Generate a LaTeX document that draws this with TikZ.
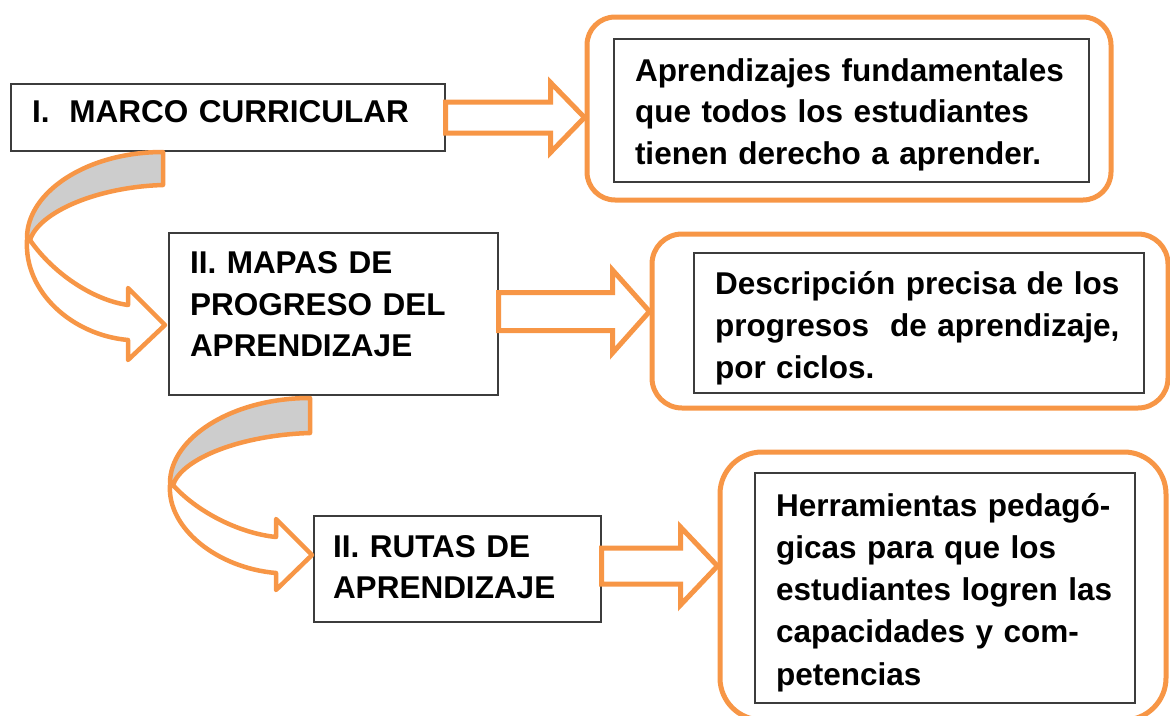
\documentclass[tikz,border=0pt]{standalone}
\usepackage{fontspec}
\setmainfont{Liberation Sans}
\usetikzlibrary{calc}
\definecolor{orng}{HTML}{F79646}
\definecolor{bandgray}{HTML}{CDCDCD}
\definecolor{boxline}{HTML}{3C3C3C}
\newcommand{\txtfont}{\fontsize{31.5}{41.5}\selectfont\bfseries}
% straight block arrow from a start point to the west side of a node
\newcommand{\blockarr}[5]{%
  \draw[barrow] let \p1=(#1), \p2=(#2.west) in
    (\x1,\y1+#3) -- (\x2-#5,\y1+#3) -- (\x2-#5,\y1+#4) -- (\x2,\y1)
    -- (\x2-#5,\y1-#4) -- (\x2-#5,\y1-#3) -- (\x1,\y1-#3) -- cycle;}
\begin{document}
\begin{tikzpicture}[x=1pt,y=-1pt,
  lbox/.style={draw=boxline, line width=1.3pt, fill=white, inner xsep=21pt,
    inner ysep=0pt, align=left, font=\txtfont},
  frame/.style={draw=orng, line width=5pt, fill=white, inner sep=0pt},
  barrow/.style={draw=orng, line width=5pt, fill=white, line join=miter},
  carrow/.style={draw=orng, line width=4.5pt, line join=round}]
\useasboundingbox (0,0) rectangle (1170,715);

% left column boxes
\node[lbox, text width=392pt, minimum height=67pt] (m1) at (228,117.5)
  {I.\hspace{20pt}MARCO CURRICULAR\rule[-11.5pt]{0pt}{0pt}};
\node[lbox, text width=287pt, minimum height=162pt] (m2) at (333.5,314)
  {II. MAPAS DE\\PROGRESO DEL\\APRENDIZAJE\rule[-19.5pt]{0pt}{0pt}};
\node[lbox, inner xsep=19pt, text width=249pt, minimum height=106pt] (m3) at (457.5,569)
  {II. RUTAS DE\\APRENDIZAJE\rule[-4.5pt]{0pt}{0pt}};

% orange rounded frames
\node[frame, rounded corners=28pt, minimum width=524pt, minimum height=183pt] (r1) at (849,108.5) {};
\node[frame, rounded corners=30pt, minimum width=516pt, minimum height=174pt] (r2) at (910,321) {};
\node[frame, rounded corners=42pt, minimum width=446pt, minimum height=268pt] (r3) at (943,586) {};

% inner text boxes
\node[lbox, text width=433pt, minimum height=143pt] (i1) at (851.5,110.5)
  {\rule{0pt}{31pt}Aprendizajes fundamentales\\que todos los estudiantes\\tienen derecho a aprender.};
\node[lbox, text width=408pt, minimum height=140pt,
  font=\fontsize{31.5}{42}\selectfont\bfseries] (i2) at (919,323)
  {\rule{0pt}{33pt}Descripción precisa de los\\progresos\ \ de aprendizaje,\\por ciclos.};
\node[lbox, text width=338pt, minimum height=230pt,
  font=\fontsize{31.5}{42.2}\selectfont\bfseries] (i3) at (945,588)
  {\rule{0pt}{32pt}Herramientas pedagó-\\gicas para que los\\estudiantes logren las\\capacidades y com-\\petencias};

% straight block arrows
\blockarr{m1.east}{r1}{15.5pt}{35pt}{34pt}
\blockarr{$(m2.east)+(0,-2.5)$}{r2}{19pt}{41.5pt}{37pt}
\blockarr{$(m3.east)+(0,-3)$}{r3}{18pt}{39pt}{37pt}

% curved arrow from box I to box II
\begin{scope}[shift={(27,152)}]
  \draw[carrow, fill=bandgray] (136,0) .. controls (60,0) and (0,40) .. (0,86)
    -- (3,88) .. controls (12,60) and (70,35) .. (136,33) -- cycle;
  \draw[carrow, fill=white] (3,88) .. controls (25,120) and (65,148) .. (101,153)
    -- (101,136) -- (138,173) -- (101,208) -- (101,188)
    .. controls (45,183) and (-3,140) .. (0,88) -- cycle;
\end{scope}

% curved arrow from box II to box III
\begin{scope}[shift={(170,398)}]
  \draw[carrow, fill=bandgray] (140,0) .. controls (62,0) and (0,40) .. (0,85)
    -- (3,87) .. controls (12,60) and (72,37) .. (140,35) -- cycle;
  \draw[carrow, fill=white] (3,87) .. controls (25,112) and (67,135) .. (106,139)
    -- (106,121) -- (142,157) -- (106,192) -- (106,175)
    .. controls (47,170) and (-3,130) .. (0,87) -- cycle;
\end{scope}
\end{tikzpicture}
\end{document}
